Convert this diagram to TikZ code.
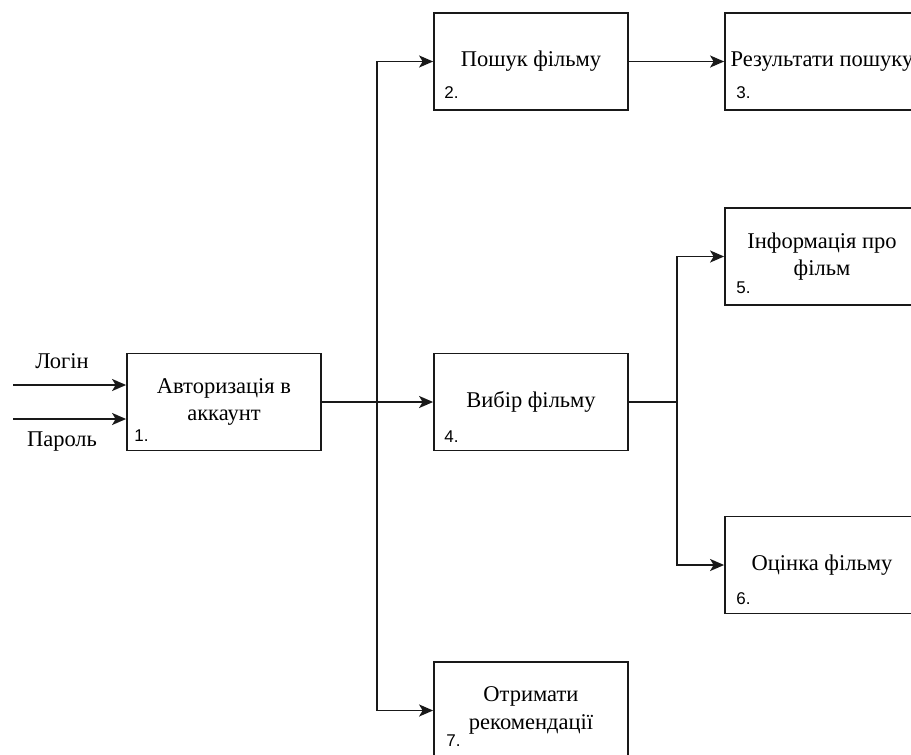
\documentclass[tikz,border=0pt]{standalone}
\usepackage{fontspec}
\setmainfont{Liberation Serif}
\newfontfamily\numfont{Liberation Sans}
\usetikzlibrary{arrows.meta}
\begin{document}
\begin{tikzpicture}[x=1pt,y=-1pt,
  box/.style={draw=black!90, line width=1.8pt, minimum width=194pt, minimum height=97pt, inner sep=0pt,
    align=center, font=\fontsize{22.5}{27.5}\selectfont},
  num/.style={anchor=west, inner sep=0pt, font=\numfont\fontsize{17}{20}\selectfont},
  lbl/.style={inner sep=0pt, font=\fontsize{22.5}{27}\selectfont},
  conn/.style={draw=black!90, line width=1.8pt},
  arr/.style={conn, -{Stealth[length=14pt,width=12pt,inset=3.5pt]}}]
\useasboundingbox (0,0) rectangle (911,755);
\clip (0,0) rectangle (911,755);
\fill[white] (0,0) rectangle (911,755);
% boxes
\node[box] (b1) at (224,402) {Авторизація в\\аккаунт};
\node[box] (b2) at (531,61.5) {Пошук фільму};
\node[box] (b3) at (822,61.5) {Результати пошуку};
\node[box] (b5) at (822,256.5) {Інформація про\\фільм};
\node[box] (b4) at (531,402) {Вибір фільму};
\node[box] (b6) at (822,565) {Оцінка фільму};
\node[box] (b7) at (531,710.5) {Отримати\\рекомендації};
% numbers
\node[num] at ([shift={(8pt,16pt)}]b1.south west) {1.};
\node[num] at ([shift={(11pt,18pt)}]b2.south west) {2.};
\node[num] at ([shift={(12pt,18pt)}]b3.south west) {3.};
\node[num] at ([shift={(11pt,15pt)}]b4.south west) {4.};
\node[num] at ([shift={(12pt,18pt)}]b5.south west) {5.};
\node[num] at ([shift={(12pt,16pt)}]b6.south west) {6.};
\node[num] at ([shift={(13pt,19pt)}]b7.south west) {7.};
% inputs
\node[lbl] (login) at (62,361) {Логін};
\node[lbl] (pass) at (62,442) {Пароль};
\coordinate (in1) at (13,385);
\coordinate (in2) at (13,419);
\draw[arr] (in1) -- (in1 -| b1.west);
\draw[arr] (in2) -- (in2 -| b1.west);
% trunk
\coordinate (t) at (377,402);
\draw[conn] (b1.east) -- (t);
\draw[arr] (t) |- (b2.west);
\draw[arr] (t) -- (b4.west);
\draw[arr] (t) |- (b7.west);
\draw[arr] (b2.east) -- (b3.west);
\coordinate (j) at (677,402);
\draw[conn] (b4.east) -- (j);
\draw[arr] (j) |- (b5.west);
\draw[arr] (j) |- (b6.west);
\end{tikzpicture}
\end{document}
